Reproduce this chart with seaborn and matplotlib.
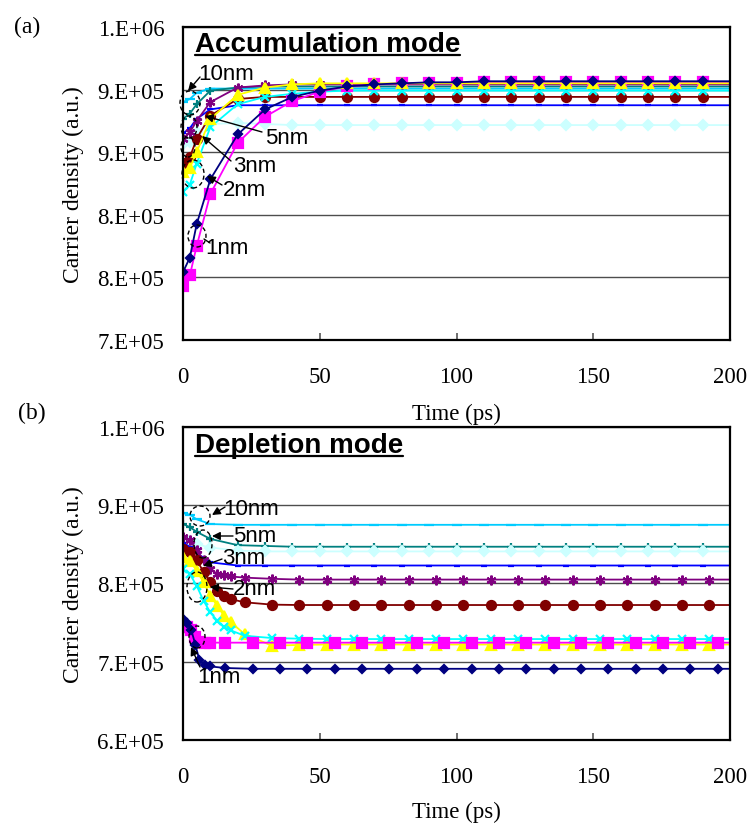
import numpy as np
import pandas as pd
import matplotlib
matplotlib.use("Agg")
import matplotlib.pyplot as plt
import seaborn as sns
from matplotlib.patches import Ellipse
from matplotlib.lines import Line2D
from matplotlib.ticker import FuncFormatter, FixedLocator

# ---------------- data (values in units of 1e6) ----------------
t_acc = [0, 2.5, 5, 10, 20, 30, 40, 50, 60, 70, 80, 90, 100, 110, 120, 130,
         140, 150, 160, 170, 180, 190, 200]

acc_1nm_a = [0.765, 0.779, 0.811, 0.854, 0.897, 0.921, 0.933, 0.939, 0.943, 0.945, 0.946, 0.947,
             0.947, 0.948, 0.948, 0.948, 0.948, 0.948, 0.948, 0.948, 0.948, 0.948, 0.948]
acc_1nm_b = [0.752, 0.762, 0.790, 0.840, 0.889, 0.914, 0.929, 0.938, 0.943, 0.945, 0.946, 0.946,
             0.946, 0.947, 0.947, 0.947, 0.947, 0.947, 0.947, 0.947, 0.947, 0.947, 0.947]
acc_2nm_a = [0.861, 0.865, 0.880, 0.912, 0.935, 0.942, 0.945, 0.946, 0.946, 0.946, 0.946, 0.946,
             0.946, 0.946, 0.946, 0.946, 0.946, 0.946, 0.946, 0.946, 0.946, 0.946, 0.946]
acc_2nm_b = [0.842, 0.849, 0.869, 0.904, 0.926, 0.933, 0.936, 0.938, 0.939, 0.939, 0.939, 0.939,
             0.939, 0.939, 0.939, 0.939, 0.939, 0.939, 0.939, 0.939, 0.939, 0.939, 0.939]
acc_3nm_a = [0.870, 0.875, 0.893, 0.915, 0.931, 0.933, 0.933, 0.933, 0.933, 0.933, 0.933, 0.933,
             0.933, 0.933, 0.933, 0.933, 0.933, 0.933, 0.933, 0.933, 0.933, 0.933, 0.933]
acc_3nm_b = [0.888, 0.890, 0.899, 0.907, 0.908, 0.907, 0.906, 0.906, 0.906, 0.906, 0.906, 0.906,
             0.906, 0.906, 0.906, 0.906, 0.906, 0.906, 0.906, 0.906, 0.906, 0.906, 0.906]
acc_5nm_a = [0.893, 0.899, 0.910, 0.928, 0.942, 0.944, 0.945, 0.945, 0.945, 0.945, 0.945, 0.945,
             0.945, 0.945, 0.945, 0.945, 0.945, 0.945, 0.945, 0.945, 0.945, 0.945, 0.945]
acc_5nm_b = [0.898, 0.903, 0.912, 0.921, 0.925, 0.925, 0.925, 0.925, 0.925, 0.925, 0.925, 0.925,
             0.925, 0.925, 0.925, 0.925, 0.925, 0.925, 0.925, 0.925, 0.925, 0.925, 0.925]
acc_10nm_a = [0.912, 0.917, 0.926, 0.939, 0.942, 0.943, 0.943, 0.943, 0.943, 0.943, 0.943, 0.943,
              0.943, 0.943, 0.943, 0.943, 0.943, 0.943, 0.943, 0.943, 0.943, 0.943, 0.943]
acc_10nm_b = [0.928, 0.931, 0.937, 0.941, 0.941, 0.941, 0.941, 0.941, 0.941, 0.941, 0.941, 0.941,
              0.941, 0.941, 0.941, 0.941, 0.941, 0.941, 0.941, 0.941, 0.941, 0.941, 0.941]

t_dep_std = [0, 2.5, 5, 10, 20, 30, 40, 50, 60, 70, 80, 90, 100, 110, 120, 130,
             140, 150, 160, 170, 180, 190, 200]
t_dep_fine = [0, 2.5, 5, 7.5, 10, 12.5, 15, 17.5, 22.5, 32.5, 42.5, 52.5, 62.5, 72.5, 82.5,
              92.5, 102.5, 112.5, 122.5, 132.5, 142.5, 152.5, 162.5, 172.5, 182.5, 192.5, 200]
t_dep_1nm = [0, 1.5, 3, 4.5, 6, 8, 10, 15.5, 25.5, 35.5, 45.5, 55.5, 65.5, 75.5, 85.5,
             95.5, 105.5, 115.5, 125.5, 135.5, 145.5, 155.5, 165.5, 175.5, 185.5, 195.5, 200]

dep_10nm_b = [0.890, 0.888, 0.882, 0.876, 0.875, 0.875, 0.875, 0.875, 0.875, 0.875, 0.875, 0.875,
              0.875, 0.875, 0.875, 0.875, 0.875, 0.875, 0.875, 0.875, 0.875, 0.875, 0.875]
dep_10nm_a = [0.876, 0.872, 0.866, 0.857, 0.849, 0.848, 0.847, 0.847, 0.847, 0.847, 0.847, 0.847,
              0.847, 0.847, 0.847, 0.847, 0.847, 0.847, 0.847, 0.847, 0.847, 0.847, 0.847]
dep_3nm_b = [0.857, 0.854, 0.850, 0.846, 0.842, 0.841, 0.841, 0.841, 0.841, 0.841, 0.841, 0.841,
             0.841, 0.841, 0.841, 0.841, 0.841, 0.841, 0.841, 0.841, 0.841, 0.841, 0.841]
dep_5nm_b = [0.852, 0.847, 0.839, 0.827, 0.823, 0.823, 0.823, 0.823, 0.823, 0.823, 0.823, 0.823,
             0.823, 0.823, 0.823, 0.823, 0.823, 0.823, 0.823, 0.823, 0.823, 0.823, 0.823]
dep_5nm_a = [0.860, 0.855, 0.843, 0.830, 0.819, 0.812, 0.811, 0.809, 0.8075, 0.806, 0.805, 0.805,
             0.805, 0.805, 0.805, 0.805, 0.805, 0.805, 0.805, 0.805, 0.805, 0.805, 0.805, 0.805,
             0.805, 0.805, 0.805]
dep_3nm_a = [0.844, 0.840, 0.830, 0.815, 0.802, 0.790, 0.784, 0.780, 0.776, 0.773, 0.7725, 0.7725,
             0.7725, 0.7725, 0.7725, 0.7725, 0.7725, 0.7725, 0.7725, 0.7725, 0.7725, 0.7725,
             0.7725, 0.7725, 0.7725, 0.7725, 0.7725]
dep_2nm_b = [0.8185, 0.812, 0.797, 0.778, 0.763, 0.7525, 0.744, 0.740, 0.7333, 0.7303, 0.7295,
             0.729, 0.729, 0.729, 0.729, 0.729, 0.729, 0.729, 0.729, 0.729, 0.729, 0.729, 0.729,
             0.729, 0.729, 0.729, 0.729]
dep_2nm_a = [0.8335, 0.829, 0.8164, 0.8015, 0.7844, 0.7716, 0.7588, 0.7504, 0.7355, 0.7205,
             0.7215, 0.722, 0.722, 0.722, 0.722, 0.722, 0.722, 0.722, 0.722, 0.722, 0.722, 0.722,
             0.722, 0.722, 0.722, 0.722, 0.722]
dep_1nm_a = [0.755, 0.750, 0.741, 0.722, 0.702, 0.696, 0.694, 0.692, 0.691, 0.691, 0.691, 0.691,
             0.691, 0.691, 0.691, 0.691, 0.691, 0.691, 0.691, 0.691, 0.691, 0.691, 0.691, 0.691,
             0.691, 0.691, 0.691]
dep_1nm_b = [0.744, 0.744, 0.740, 0.731, 0.725, 0.7245, 0.7244, 0.7244, 0.7244, 0.7244, 0.7244,
             0.7244, 0.7244, 0.7244, 0.7244, 0.7244, 0.7244, 0.7244, 0.7244, 0.7244, 0.7244,
             0.7244, 0.7244, 0.7244, 0.7244, 0.7244, 0.7244]

acc_ticks = [0.70, 0.76, 0.82, 0.88, 0.94, 1.00]
dep_ticks = [0.6, 0.7, 0.8, 0.9, 1.0]
x_ticks = [0, 50, 100, 150, 200]
thickness_labels = ["10nm", "5nm", "3nm", "2nm", "1nm"]

# ---------------- styles ----------------
STYLE = {
    "1nm_a":  dict(color="#000080", marker="D", ms=4.5, lw=1.3),
    "1nm_b":  dict(color="#FF00FF", marker="s", ms=6.5, lw=1.3),
    "2nm_a":  dict(color="#FFFF00", marker="^", ms=7, lw=1.3),
    "2nm_b":  dict(color="#00FFFF", marker="x", ms=6, lw=1.3),
    "3nm_a":  dict(color="#800000", marker="o", ms=6.5, lw=1.3),
    "3nm_b":  dict(color="#CCFFFF", marker="D", ms=5, lw=1.3),
    "5nm_a":  dict(color="#800080", marker=(6, 2, 0), ms=7, lw=1.3),
    "5nm_b":  dict(color="#0000FF", marker="_", ms=4, lw=1.3),
    "10nm_a": dict(color="#008080", marker="+", ms=6, lw=1.3),
    "10nm_b": dict(color="#00CCFF", marker="_", ms=7, lw=1.3),
}

acc_series = {"3nm_b": acc_3nm_b, "5nm_b": acc_5nm_b, "3nm_a": acc_3nm_a, "10nm_b": acc_10nm_b,
              "10nm_a": acc_10nm_a, "2nm_b": acc_2nm_b, "5nm_a": acc_5nm_a, "1nm_b": acc_1nm_b,
              "2nm_a": acc_2nm_a, "1nm_a": acc_1nm_a}
acc_times = {k: t_acc for k in acc_series}

dep_series = {"10nm_b": dep_10nm_b, "10nm_a": dep_10nm_a, "3nm_b": dep_3nm_b, "5nm_b": dep_5nm_b,
              "5nm_a": dep_5nm_a, "3nm_a": dep_3nm_a, "2nm_a": dep_2nm_a, "2nm_b": dep_2nm_b,
              "1nm_b": dep_1nm_b, "1nm_a": dep_1nm_a}
dep_times = {"10nm_b": t_dep_std, "10nm_a": t_dep_std, "3nm_b": t_dep_std, "5nm_b": t_dep_std,
             "5nm_a": t_dep_fine, "3nm_a": t_dep_fine, "2nm_a": t_dep_fine, "2nm_b": t_dep_fine,
             "1nm_b": t_dep_1nm, "1nm_a": t_dep_1nm}

# ---------------- figure ----------------
sns.set_theme(style="white")
plt.rcParams['font.family'] = ['Liberation Serif', 'DejaVu Serif']

W, H = 748, 828
fig = plt.figure(figsize=(W / 100, H / 100), dpi=100)


def fx(x):
    return x / W


def fy(y):
    return 1 - y / H


ax1 = fig.add_axes([fx(183), fy(341), (730 - 183) / W, (341 - 28) / H])
ax2 = fig.add_axes([fx(183), fy(741), (730 - 183) / W, (741 - 428) / H])


def excel_sci(v, pos):
    if v == 0:
        return "0.E+00"
    e = int(np.floor(np.log10(abs(v)) + 1e-9))
    m = int(np.floor(v / 10 ** e + 0.5 + 1e-9))
    if m >= 10:
        m //= 10
        e += 1
    return f"{m}.E+{e:02d}"


def make_long(series, times):
    frames = []
    for name, vals in series.items():
        frames.append(pd.DataFrame({"time": times[name],
                                    "density": np.array(vals) * 1e6,
                                    "series": name}))
    return pd.concat(frames, ignore_index=True)


def draw_panel(ax, series, times, ticks, xpad, ylab_y, xlab_y):
    df = make_long(series, times)
    for name in series:
        st = STYLE[name]
        sub = df[df["series"] == name]
        sns.lineplot(data=sub, x="time", y="density", ax=ax, estimator=None, sort=False,
                     legend=False, color=st["color"], linewidth=st["lw"],
                     marker=st["marker"], markersize=st["ms"],
                     markerfacecolor=st["color"], markeredgecolor=st["color"],
                     markeredgewidth=1.6, markevery=slice(0, -1))
    ax.set_xlim(0, 200)
    ax.set_ylim(ticks[0] * 1e6, ticks[-1] * 1e6)
    ax.yaxis.set_major_locator(FixedLocator([v * 1e6 for v in ticks]))
    ax.yaxis.set_major_formatter(FuncFormatter(excel_sci))
    ax.xaxis.set_major_locator(FixedLocator(x_ticks))
    ax.set_facecolor("white")
    ax.grid(False)
    ax.yaxis.grid(True, color="#4d4d4d", linewidth=1.0)
    ax.set_axisbelow(True)
    for sp in ax.spines.values():
        sp.set_visible(True)
        sp.set_color("black")
        sp.set_linewidth(1.6)
    ax.tick_params(axis="y", length=0, pad=13.5, labelsize=16.5, labelcolor="black")
    ax.tick_params(axis="x", direction="in", length=5, width=1.2, color="#555555",
                   pad=xpad, labelsize=16.5, labelcolor="black", bottom=True)
    ax.set_xlabel("Time (ps)", fontsize=16.5, color="black")
    ax.set_ylabel("Carrier density (a.u.)", fontsize=17, color="black")
    ax.yaxis.set_label_coords(-0.201, ylab_y)
    ax.yaxis.label.set_verticalalignment("center")
    ax.xaxis.set_label_coords(0.5, xlab_y)
    ax.xaxis.label.set_verticalalignment("center")


draw_panel(ax1, acc_series, acc_times, acc_ticks, 19, 0.5, (341 - 414) / 313)
draw_panel(ax2, dep_series, dep_times, dep_ticks, 19, 0.5, (741 - 812) / 313)

# panel letters
fig.text(fx(27), fy(27), "(a)", ha="center", va="center", fontsize=17, color="black")
fig.text(fx(32), fy(413), "(b)", ha="center", va="center", fontsize=17, color="black")

# titles (underlined)
SANS = ["Liberation Sans", "DejaVu Sans"]
t1 = fig.text(fx(195), fy(52), "Accumulation mode", ha="left", va="baseline",
              fontsize=20, fontweight="bold", family=SANS, color="black")
t2 = fig.text(fx(195), fy(453), "Depletion mode", ha="left", va="baseline",
              fontsize=20, fontweight="bold", family=SANS, color="black")

# annotations: (label, text left x, text center y, arrow tail, arrow tip, ellipse)
ann_acc = [
    (thickness_labels[0], 198, 75, (200, 78), (188, 92), (190, 104, 20, 24)),
    (thickness_labels[1], 265, 138, (262, 133), (205, 117), (189, 128, 16, 22)),
    (thickness_labels[2], 233, 167, (231, 162), (202, 137), (188, 148, 14, 20)),
    (thickness_labels[3], 223, 190, (222, 186), (207, 177), (193, 175, 22, 28)),
    (thickness_labels[4], 205, 248, None, None, (197, 237, 18, 22)),
]
ann_dep = [
    (thickness_labels[0], 223, 510, (225, 508), (212, 516), (200, 517, 20, 20)),
    (thickness_labels[1], 233, 537, (233, 537), (212, 537), (203, 545, 18, 28)),
    (thickness_labels[2], 222, 558, (222, 560), (203, 567), None),
    (thickness_labels[3], 233, 590, (233, 590), (210, 588), (197, 588, 20, 30)),
    (thickness_labels[4], 197, 678, (200, 668), (191, 648), (197, 638, 16, 22)),
]

for lab, tx, ty, tail, tip, ell in ann_acc + ann_dep:
    fig.text(fx(tx), fy(ty), lab, ha="left", va="center", fontsize=16, family=SANS,
             color="black")
    if tail is not None:
        fig.add_artist(matplotlib.patches.FancyArrowPatch(
            (fx(tail[0]), fy(tail[1])), (fx(tip[0]), fy(tip[1])),
            transform=fig.transFigure, arrowstyle="-|>", mutation_scale=12,
            color="black", lw=1.0, shrinkA=0, shrinkB=0))
    if ell is not None:
        cx, cy, w, h = ell
        fig.add_artist(Ellipse((fx(cx), fy(cy)), w / W, h / H, transform=fig.transFigure,
                               fill=False, ls=(0, (3, 2)), lw=1.0, ec="black"))

# 1nm connector line (top panel)
fig.add_artist(Line2D([fx(204), fx(210)], [fy(240), fy(244)], transform=fig.transFigure,
                      color="black", lw=1.0))

# underlines
fig.canvas.draw()
for t, uy in [(t1, 56), (t2, 457)]:
    bb = t.get_window_extent()
    fig.add_artist(Line2D([bb.x0 / W, bb.x1 / W], [fy(uy), fy(uy)], transform=fig.transFigure,
                          color="black", lw=1.6))

fig.savefig("out.png", dpi=100, facecolor="white")
